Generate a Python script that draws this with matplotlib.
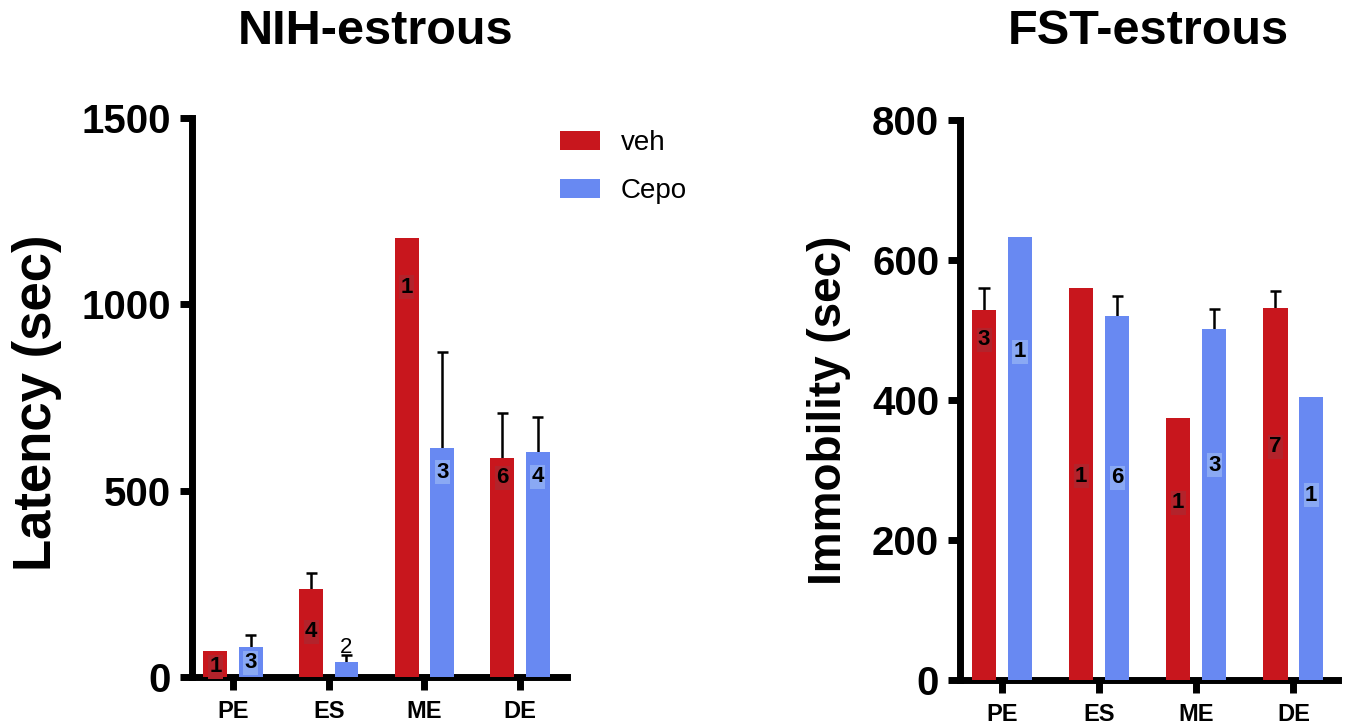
import numpy as np
import matplotlib
matplotlib.use("Agg")
import matplotlib.pyplot as plt

plt.rcParams['font.family'] = ['Liberation Sans', 'DejaVu Sans']

# ---------------- data ----------------
phases = ["PE", "ES", "ME", "DE"]
series = ["veh", "Cepo"]

nih_veh = [70, 236, 1178, 588]
nih_veh_err = [np.nan, 43, np.nan, 120]
nih_cepo = [80, 40, 614, 604]
nih_cepo_err = [33, 19, 258, 93]
nih_veh_n = ["1", "4", "1", "6"]
nih_cepo_n = ["3", "2", "3", "4"]
nih_veh_npos = [27, 121, 1046, 534]
nih_cepo_npos = [38, 80, 550, 537]

fst_veh = [529, 560, 375, 531]
fst_veh_err = [31, np.nan, np.nan, 25]
fst_cepo = [633, 520, 502, 404]
fst_cepo_err = [np.nan, 29, 28, np.nan]
fst_veh_n = ["3", "1", "1", "7"]
fst_cepo_n = ["1", "6", "3", "1"]
fst_veh_npos = [486, 291, 253, 333]
fst_cepo_npos = [469, 289, 307, 264]

nih_yticks = [0, 500, 1000, 1500]
fst_yticks = [0, 200, 400, 600, 800]

# ---------------- style ----------------
RED = "#C8161D"
BLUE = "#6889F2"
RED_BOX = "#B3232B"
BLUE_BOX = "#8AA9F4"
W, H = 1350, 728
LW = 5.0
BW = 0.25
OFF = 0.185
CAP = 0.115

fig = plt.figure(figsize=(W / 100, H / 100), dpi=100)


def px_axes(x0, y_top, x1, y_bot):
    return fig.add_axes([x0 / W, 1 - y_bot / H, (x1 - x0) / W, (y_bot - y_top) / H])


def draw_panel(ax, veh, veh_err, cepo, cepo_err, veh_n, cepo_n, veh_np, cepo_np,
               yticks, xlim, boxed_cepo):
    x = np.arange(len(phases))
    b1 = ax.bar(x - OFF, veh, BW, color=RED, zorder=3, label=series[0])
    b2 = ax.bar(x + OFF, cepo, BW, color=BLUE, zorder=3, label=series[1])
    for xs, vals, errs in ((x - OFF, veh, veh_err), (x + OFF, cepo, cepo_err)):
        vals = np.asarray(vals, float)
        errs = np.asarray(errs, float)
        m = ~np.isnan(errs)
        tops = vals[m] + errs[m]
        ax.vlines(xs[m], vals[m], tops, color="black", lw=1.8, zorder=2)
        ax.hlines(tops, xs[m] - CAP / 2, xs[m] + CAP / 2, color="black", lw=1.8, zorder=2)
    for i in range(len(phases)):
        ax.text(x[i] - OFF, veh_np[i], veh_n[i], ha="center", va="center",
                fontsize=16, fontweight="bold", zorder=5,
                bbox=dict(boxstyle="square,pad=0.06", fc=RED_BOX, ec="none"))
        bb = dict(boxstyle="square,pad=0.06", fc=BLUE_BOX, ec="none") if boxed_cepo[i] else None
        ax.text(x[i] + OFF, cepo_np[i], cepo_n[i], ha="center", va="center",
                fontsize=16, fontweight="bold" if boxed_cepo[i] else "normal", zorder=5, bbox=bb)
    ax.set_xlim(*xlim)
    ax.set_ylim(yticks[0], yticks[-1])
    ax.set_yticks(yticks)
    ax.set_xticks(x)
    ax.set_xticklabels(phases)
    for s in ("top", "right"):
        ax.spines[s].set_visible(False)
    for s in ("left", "bottom"):
        ax.spines[s].set_linewidth(LW)
        ax.spines[s].set_capstyle("projecting")
    ax.tick_params(axis="y", length=9, width=LW, pad=6, labelsize=29)
    ax.tick_params(axis="x", length=9.5, width=LW, pad=7, labelsize=17)
    for lab in ax.get_yticklabels() + ax.get_xticklabels():
        lab.set_fontweight("bold")
    return b1, b2


ax1 = px_axes(192, 118, 567, 677)
b1, b2 = draw_panel(ax1, nih_veh, nih_veh_err, nih_cepo, nih_cepo_err,
                    nih_veh_n, nih_cepo_n, nih_veh_npos, nih_cepo_npos,
                    nih_yticks, (-0.43, 3.49), [True, False, True, True])

ax2 = px_axes(960, 120, 1338, 680)
draw_panel(ax2, fst_veh, fst_veh_err, fst_cepo, fst_cepo_err,
           fst_veh_n, fst_cepo_n, fst_veh_npos, fst_cepo_npos,
           fst_yticks, (-0.433, 3.46), [True, True, True, True])

fig.text(376 / W, 1 - 31 / H, "NIH-estrous", ha="center", va="center",
         fontsize=35, fontweight="bold")
fig.text(1148 / W, 1 - 31 / H, "FST-estrous", ha="center", va="center",
         fontsize=35, fontweight="bold")
fig.text(37 / W, 1 - 403 / H, "Latency (sec)", ha="center", va="center",
         rotation=90, fontsize=38, fontweight="bold")
fig.text(829 / W, 1 - 410 / H, "Immobility (sec)", ha="center", va="center",
         rotation=90, fontsize=33, fontweight="bold")

fig.legend(handles=[b1, b2], labels=series, loc="upper left",
           bbox_to_anchor=(560 / W, 1 - 130 / H), frameon=False, fontsize=20,
           handlelength=1.44, handleheight=0.68, handletextpad=0.75,
           labelspacing=0.8, borderpad=0, borderaxespad=0)

fig.savefig("out.png", dpi=100)
